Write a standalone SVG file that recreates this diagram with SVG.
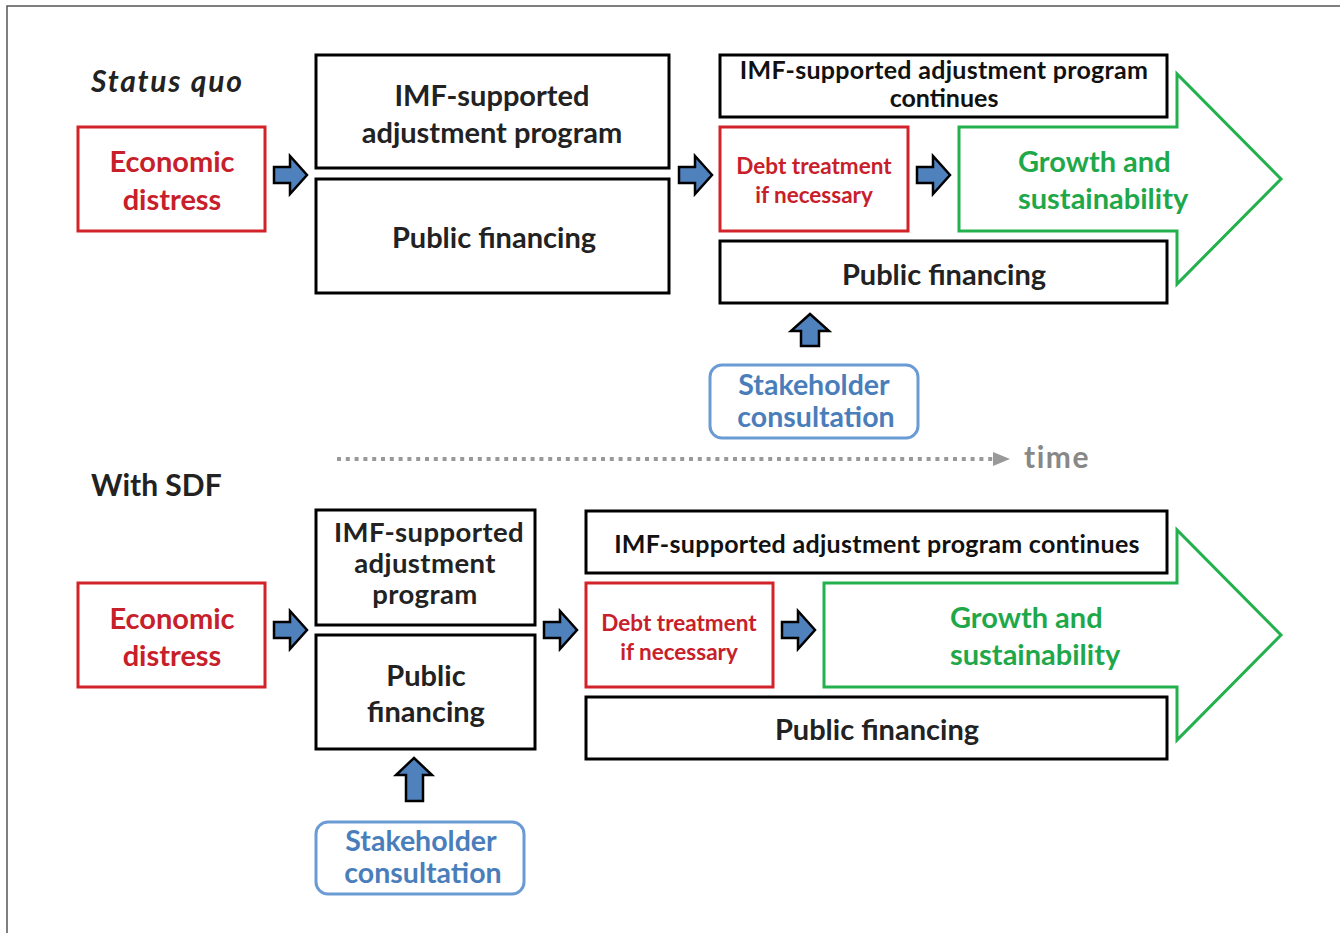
<svg xmlns="http://www.w3.org/2000/svg" width="1340" height="933" viewBox="0 0 1340 933">
<defs>
<style>
text{font-family:Lato,"Open Sans","Liberation Sans",sans-serif;font-weight:bold;}
.box{fill:#fff;stroke:#000;stroke-width:3;}
.red{fill:#fff;stroke:#d2232b;stroke-width:3;}
.grn{fill:#fff;stroke:#22b14c;stroke-width:3;}
.blu{fill:#fff;stroke:#6b9bd4;stroke-width:3;}
.ba{fill:#4f81bd;stroke:#000;stroke-width:2.5;stroke-linejoin:miter;}
.t{fill:#222;font-size:29px;text-anchor:middle;}
.t3{fill:#222;font-size:27.5px;text-anchor:middle;letter-spacing:0.4px;}
.ts{fill:#111;font-size:25px;text-anchor:middle;}
.tr{fill:#c8202a;font-size:29px;text-anchor:middle;}
.trs{fill:#c8202a;font-size:22.5px;text-anchor:middle;}
.tg{fill:#1fa84a;font-size:29px;}
.tb{fill:#4a7ebb;font-size:28.5px;text-anchor:middle;}
.hd{fill:#222;font-size:30px;}
</style>
</defs>
<rect x="7" y="6" width="1340" height="940" fill="#fff" stroke="#555" stroke-width="1.5"/>

<text class="hd" x="91" y="92" font-style="italic" font-size="31" letter-spacing="1.8">Status quo</text>
<text class="hd" x="91" y="496">With SDF</text>

<g id="sq-growth"><polygon class="grn" points="959,127 1177,127 1177,74 1281,179 1177,284 1177,231 959,231"/>
<text class="tg" x="1018" y="172">Growth and</text><text class="tg" x="1018" y="209">sustainability</text></g>
<g id="sq-econ"><rect class="red" x="78" y="127" width="187" height="104"/>
<text class="tr" x="172" y="172">Economic</text><text class="tr" x="172" y="210">distress</text></g>
<g id="sq-imf"><rect class="box" x="316" y="55" width="353" height="113"/>
<text class="t" x="492" y="106">IMF-supported</text><text class="t" x="492" y="143">adjustment program</text></g>
<g id="sq-pf"><rect class="box" x="316" y="179" width="353" height="114"/>
<text class="t" x="494" y="248">Public financing</text></g>
<g id="sq-imf2"><rect class="box" x="720" y="55" width="447" height="62"/>
<text class="ts" x="944" y="79" letter-spacing="0.3">IMF-supported adjustment program</text><text class="ts" x="944" y="107">continues</text></g>
<g id="sq-debt"><rect class="red" x="720" y="127" width="188" height="104"/>
<text class="trs" x="814" y="174">Debt treatment</text><text class="trs" x="814" y="203">if necessary</text></g>
<g id="sq-pf2"><rect class="box" x="720" y="241" width="447" height="62"/>
<text class="t" x="944" y="285">Public financing</text></g>
<g id="sq-stake"><rect class="blu" x="710" y="365" width="208" height="73" rx="12"/>
<text class="tb" x="814" y="395">Stakeholder</text><text class="tb" x="816" y="427">consultation</text></g>

<g id="sdf-growth"><polygon class="grn" points="824,583 1177,583 1177,530 1281,635 1177,740 1177,687 824,687"/>
<text class="tg" x="950" y="628">Growth and</text><text class="tg" x="950" y="665">sustainability</text></g>
<g id="sdf-econ"><rect class="red" x="78" y="583" width="187" height="104"/>
<text class="tr" x="172" y="629">Economic</text><text class="tr" x="172" y="666">distress</text></g>
<g id="sdf-imf"><rect class="box" x="316" y="510" width="219" height="115"/>
<text class="t3" x="429" y="542">IMF-supported</text><text class="t3" x="425" y="573">adjustment</text><text class="t3" x="425" y="604">program</text></g>
<g id="sdf-pf"><rect class="box" x="316" y="635" width="219" height="114"/>
<text class="t" x="426" y="686">Public</text><text class="t" x="426" y="722">financing</text></g>
<g id="sdf-imf2"><rect class="box" x="586" y="511" width="581" height="62"/>
<text class="ts" x="877" y="553" letter-spacing="0.3">IMF-supported adjustment program continues</text></g>
<g id="sdf-debt"><rect class="red" x="586" y="583" width="187" height="104"/>
<text class="trs" x="679" y="631">Debt treatment</text><text class="trs" x="679" y="660">if necessary</text></g>
<g id="sdf-pf2"><rect class="box" x="586" y="697" width="581" height="62"/>
<text class="t" x="877" y="740">Public financing</text></g>
<g id="sdf-stake"><rect class="blu" x="316" y="822" width="208" height="72" rx="12"/>
<text class="tb" x="421" y="851">Stakeholder</text><text class="tb" x="423" y="883">consultation</text></g>

<g id="connectors">
<path class="ba" d="M274,167 H290 V156 L307,175 L290,194 V183 H274 Z"/>
<path class="ba" d="M679,167 H695 V156 L712,175 L695,194 V183 H679 Z"/>
<path class="ba" d="M917,167 H933 V156 L950,175 L933,194 V183 H917 Z"/>
<path class="ba" d="M810,314 L829,331 H819 V346 H801 V331 H791 Z"/>
<path class="ba" d="M274,622 H290 V611 L307,630 L290,649 V638 H274 Z"/>
<path class="ba" d="M544,622 H560 V611 L577,630 L560,649 V638 H544 Z"/>
<path class="ba" d="M782,622 H798 V611 L815,630 L798,649 V638 H782 Z"/>
<path class="ba" d="M414,758 L432,775 H423 V801 H406 V775 H396 Z"/>
<line x1="337" y1="459" x2="1000" y2="459" stroke="#999" stroke-width="4" stroke-dasharray="4 4.8"/>
<path d="M993,452 L1010,459 L993,466 Z" fill="#999"/>
<text x="1024" y="468" fill="#888" font-size="30" letter-spacing="1.5">time</text>
</g>
</svg>
